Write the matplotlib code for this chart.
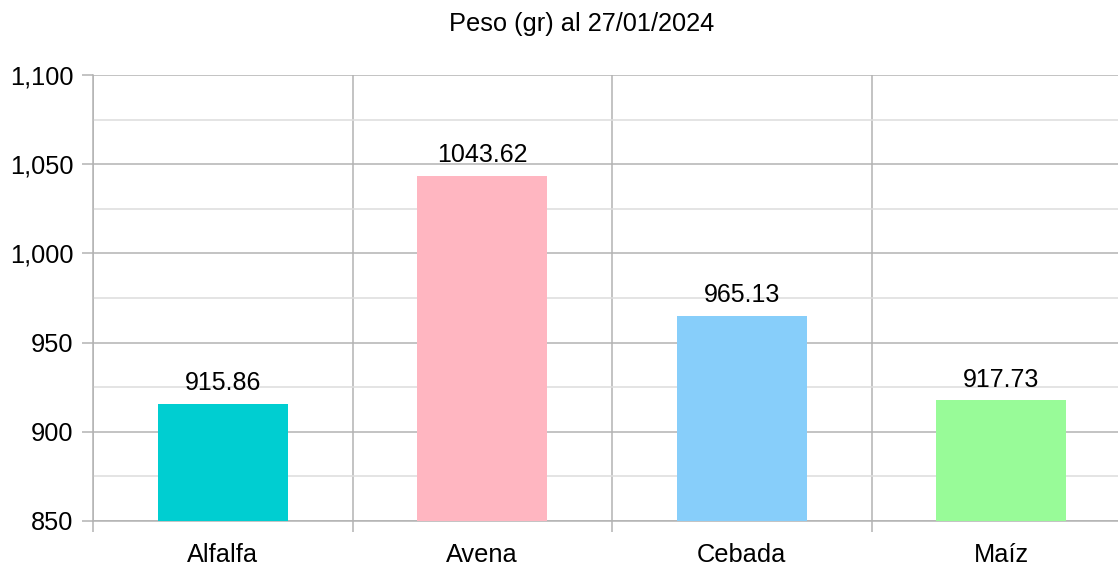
import matplotlib
matplotlib.use("Agg")
import matplotlib.pyplot as plt
from matplotlib.ticker import MultipleLocator, FuncFormatter, FixedLocator

plt.rcParams['font.family'] = ['Liberation Sans', 'DejaVu Sans']

categories = ["Alfalfa", "Avena", "Cebada", "Maíz"]
values = [915.86, 1043.62, 965.13, 917.73]
colors = ["#00CED1", "#FFB6C1", "#87CEFA", "#98FB98"]
title = "Peso (gr) al 27/01/2024"

W, H = 1118, 566
fig = plt.figure(figsize=(W / 100, H / 100), dpi=100)
left, right, top, bottom = 93, 1131, 75, 521
ax = fig.add_axes([left / W, 1 - bottom / H, (right - left) / W, (bottom - top) / H])

x = list(range(len(categories)))
ymin, ymax = 850, 1100
ax.bar(x, [v - ymin for v in values], bottom=ymin, width=0.5, color=colors, zorder=3)
for xi, v in zip(x, values):
    ax.annotate(f"{v:.2f}", (xi, v), xytext=(0, 6), textcoords="offset points",
                ha="center", va="bottom", fontsize=18, color="#000000", zorder=4)

ax.set_xlim(-0.5, len(categories) - 0.5)
ax.set_ylim(ymin, ymax)

ax.yaxis.set_major_locator(MultipleLocator(50))
ax.yaxis.set_minor_locator(MultipleLocator(25))
ax.yaxis.set_major_formatter(FuncFormatter(lambda v, p: f"{int(v):,}"))
ax.set_xticks(x)
ax.set_xticklabels(categories)
ax.xaxis.set_minor_locator(FixedLocator([i - 0.5 for i in range(len(categories) + 1)]))

ax.grid(which="major", axis="y", color="#b3b3b3", linewidth=1.1, zorder=0)
ax.grid(which="minor", axis="y", color="#dddddd", linewidth=1.1, zorder=0)
ax.grid(which="minor", axis="x", color="#b3b3b3", linewidth=1.1, zorder=0)

for s in ["top", "right"]:
    ax.spines[s].set_visible(False)
ax.spines["left"].set_color("#b3b3b3")
ax.spines["bottom"].set_color("#b3b3b3")
ax.spines["left"].set_linewidth(1.1)
ax.spines["bottom"].set_linewidth(1.1)

ax.tick_params(axis="y", which="major", length=8, width=1.1, color="#b3b3b3",
               labelsize=18.3, pad=6, direction="out")
ax.tick_params(axis="y", which="minor", length=0)
ax.tick_params(axis="x", which="major", length=0, labelsize=18.3, pad=16)
ax.tick_params(axis="x", which="minor", length=8, width=1.1, color="#b3b3b3", direction="out")

fig.text(582 / W, 1 - 24 / H, title, ha="center", va="center", fontsize=18.3)

fig.savefig("out.png", dpi=100)
